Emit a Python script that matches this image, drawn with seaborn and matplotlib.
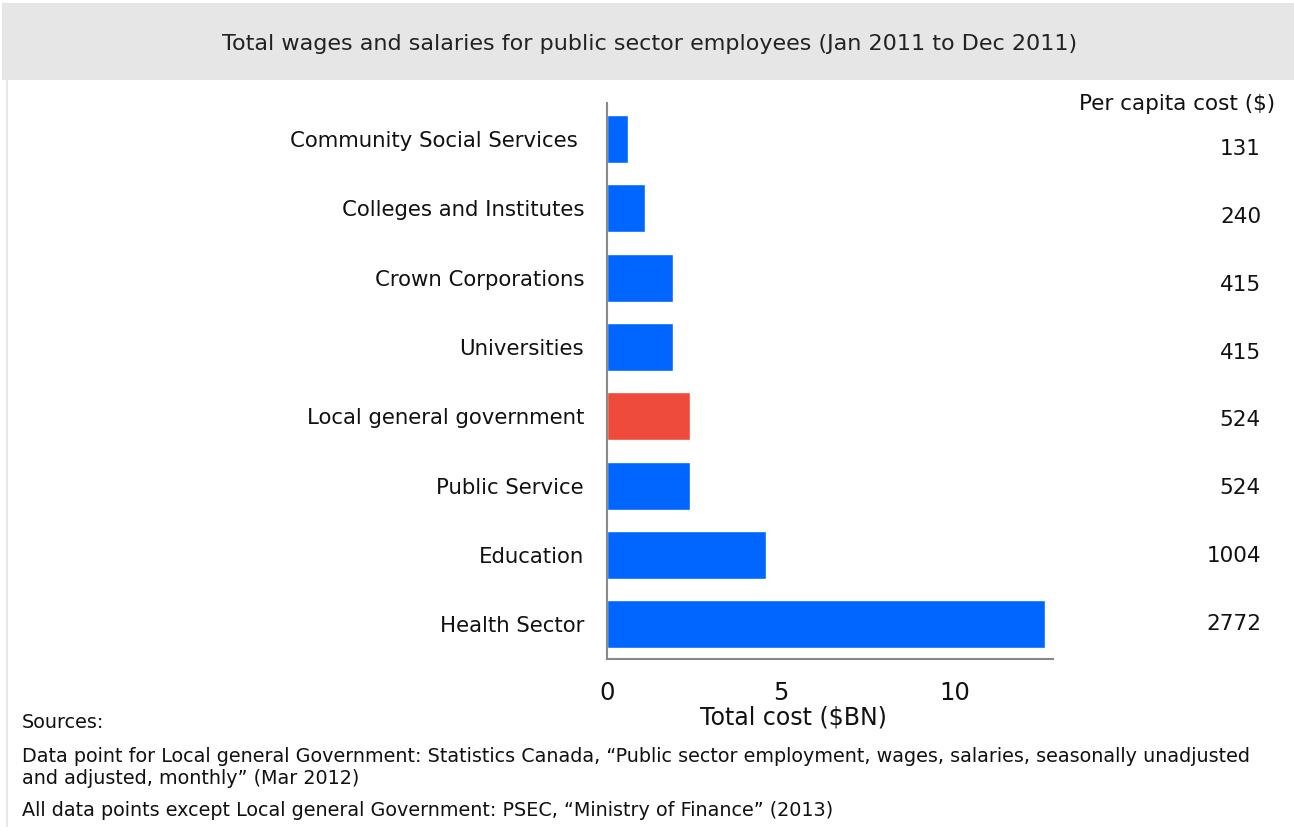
import matplotlib
matplotlib.use("Agg")
import matplotlib.pyplot as plt
import seaborn as sns
import pandas as pd
from matplotlib.patches import Rectangle
from matplotlib.lines import Line2D

# Sector names, total cost ($BN) and per capita cost ($)
categories = [
    "Community Social Services ",
    "Colleges and Institutes",
    "Crown Corporations",
    "Universities",
    "Local general government",
    "Public Service",
    "Education",
    "Health Sector",
]
total_cost_bn = [0.60, 1.09, 1.90, 1.90, 2.39, 2.39, 4.57, 12.59]
per_capita = [131, 240, 415, 415, 524, 524, 1004, 2772]
highlight = "Local general government"

title = "Total wages and salaries for public sector employees (Jan 2011 to Dec 2011)"
sources = [
    "Sources:",
    "Data point for Local general Government: Statistics Canada, \u201cPublic sector employment, wages, salaries, seasonally unadjusted\nand adjusted, monthly\u201d (Mar 2012)",
    "All data points except Local general Government: PSEC, \u201cMinistry of Finance\u201d (2013)",
]

W, H = 1294, 827
sns.set_theme(style="white")
plt.rcParams["font.family"] = ["DejaVu Sans"]

fig = plt.figure(figsize=(W / 100, H / 100), dpi=100)
fig.patch.set_facecolor("white")

# header band and frame line
fig.add_artist(Rectangle((2 / W, 1 - 80 / H), 1 - 2 / W, 77 / H,
                         transform=fig.transFigure, facecolor="#e6e6e6",
                         edgecolor="none", zorder=0))
fig.add_artist(Line2D([7 / W, 7 / W], [0, 1 - 80 / H], transform=fig.transFigure,
                      color="#e6e6e6", lw=1.5))
fig.text(650 / W, 1 - 44 / H, title, ha="center", va="center",
         fontsize=16, color="#222222")

ax_l, ax_r, ax_t, ax_b = 607, 1053, 103, 659
ax = fig.add_axes([ax_l / W, 1 - ax_b / H, (ax_r - ax_l) / W, (ax_b - ax_t) / H])

df = pd.DataFrame({"sector": categories, "cost": total_cost_bn})
palette = {c: ("#ef4b3c" if c == highlight else "#0066ff") for c in categories}
sns.barplot(data=df, x="cost", y="sector", hue="sector", palette=palette,
            order=categories, legend=False, width=0.69, saturation=1, ax=ax)

ax.set_xlim(0, 12.82)
ax.set_ylim(len(categories) - 0.5, -0.52)
ax.set_xticks([0, 5, 10])
ax.set_xticklabels(["0", "5", "10"], fontsize=17.5, color="#111111")
ax.tick_params(axis="x", length=0, pad=16)
ax.tick_params(axis="y", length=0, pad=16.5, labelsize=15.3, labelcolor="#111111")
ax.set_ylabel("")
ax.set_xlabel("Total cost ($BN)", fontsize=17, color="#111111")
ax.xaxis.set_label_coords((793 - ax_l) / (ax_r - ax_l), (ax_b - 718) / (ax_b - ax_t))
ax.xaxis.label.set_va("center")
for side in ("top", "right"):
    ax.spines[side].set_visible(False)
for side in ("left", "bottom"):
    ax.spines[side].set_color("#888888")
    ax.spines[side].set_linewidth(1.5)

# per capita column, evenly spaced from the first row to the last
fig.text(1275 / W, 1 - 104 / H, "Per capita cost ($)", ha="right", va="center",
         fontsize=15.5, color="#111111")
col_top, col_bottom = 149, 624
step = (col_bottom - col_top) / (len(per_capita) - 1)
for i, v in enumerate(per_capita):
    fig.text(1261 / W, 1 - (col_top + i * step) / H, str(v),
             ha="right", va="center", fontsize=15.5, color="#111111")

# sources
fs = 13.8
fig.text(22 / W, 1 - 722 / H, sources[0], ha="left", va="center", fontsize=fs, color="#111111")
fig.text(22 / W, 1 - 767 / H, sources[1], ha="left", va="center", fontsize=fs,
         color="#111111", linespacing=1.2)
fig.text(22 / W, 1 - 810 / H, sources[2], ha="left", va="center", fontsize=fs, color="#111111")

fig.savefig("out.png", dpi=100)
